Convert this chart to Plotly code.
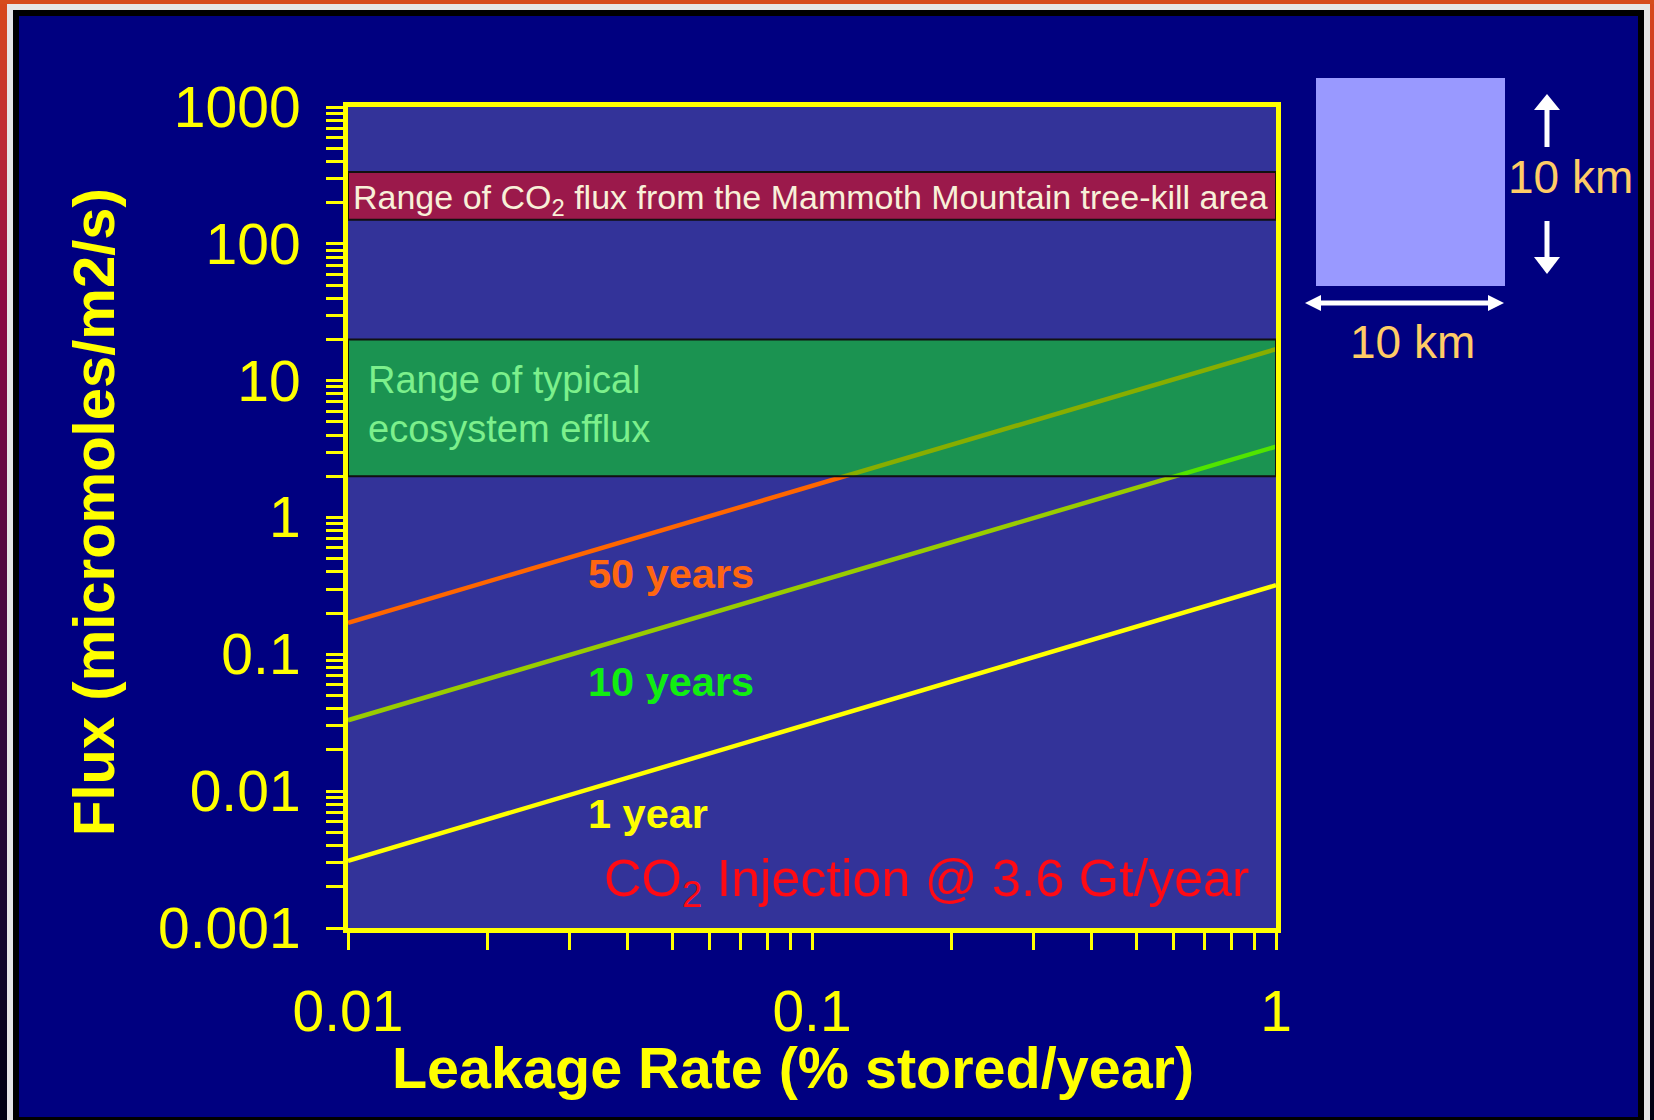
import plotly.graph_objects as go

# ---- data -------------------------------------------------------------
leak_rate = [0.01, 1.0]                       # % of stored CO2 leaking per year
series_names = ["1 year", "10 years", "50 years"]
flux_1yr = [0.0031, 0.32]                     # micromoles/m2/s
flux_10yr = [0.033, 3.3]
flux_50yr = [0.17, 17.0]
series_flux = [flux_1yr, flux_10yr, flux_50yr]

ecosystem_range = [2.0, 20.0]                 # typical ecosystem efflux
mammoth_range = [150.0, 335.0]                # Mammoth Mountain tree-kill area

y_tickvals = [0.001, 0.01, 0.1, 1, 10, 100, 1000]
y_ticktext = ["0.001", "0.01", "0.1", "1", "10", "100", "1000"]
x_tickvals = [0.01, 0.1, 1]
x_ticktext = ["0.01", "0.1", "1"]

# ---- styling ------------------------------------------------------------
W, H = 1654, 1120
ML, MR, MT, MB = 348, 378, 107, 192
PW, PH = W - ML - MR, H - MT - MB

FONT = "Liberation Sans, Arial, sans-serif"
YELLOW = "#FFFF00"
NAVY = "#000080"
PLOT_BG = "#333399"
line_colors = ["#FFFF00", "#99CC00", "#FF6600"]
label_colors = ["#FFFF00", "#11EE11", "#FF6611"]


def px(x):
    """figure pixel x -> paper coordinate"""
    return (x - ML) / PW


def py(y):
    """figure pixel y (from top) -> paper coordinate"""
    return 1 - (y - MT) / PH


def note(text, x, y, size, color, **kw):
    d = dict(text=text, x=px(x), y=py(y), xref="paper", yref="paper",
             showarrow=False, font=dict(family=FONT, size=size, color=color))
    d.update(kw)
    return d


def rect(x0, x1, y0, y1, color, **kw):
    d = dict(type="rect", xref="paper", yref="paper",
             x0=px(x0), x1=px(x1), y0=py(y1), y1=py(y0),
             fillcolor=color, line_width=0)
    d.update(kw)
    return d


def tri(points, color):
    path = "M " + " L ".join("%f,%f" % (px(a), py(b)) for a, b in points) + " Z"
    return dict(type="path", xref="paper", yref="paper", path=path,
                fillcolor=color, line_width=0)


fig = go.Figure()

for name, flux, col in zip(series_names, series_flux, line_colors):
    fig.add_trace(go.Scatter(
        x=leak_rate, y=flux, mode="lines", name=name,
        line=dict(color=col, width=4.5), showlegend=False,
    ))

shapes = []

# slide frame: gradient side strips, white and black rules
stops = [(0.0, (216, 74, 26)), (0.12, (192, 44, 52)), (0.27, (140, 8, 66)),
         (0.45, (96, 8, 66)), (0.65, (50, 8, 60)), (0.85, (18, 6, 44)),
         (1.0, (0, 0, 16))]


def grad(t):
    for (t0, c0), (t1, c1) in zip(stops[:-1], stops[1:]):
        if t0 <= t <= t1:
            f = (t - t0) / (t1 - t0)
            return "rgb(%d,%d,%d)" % tuple(round(a + (b - a) * f) for a, b in zip(c0, c1))
    return "rgb(0,0,16)"


n = 56
step = H / n
for i in range(n):
    y0, y1 = i * step, (i + 1) * step + 1
    c = grad((i + 0.5) / n)
    for x0, x1 in [(0, 7), (1650, W)]:
        shapes.append(rect(x0, x1, y0, y1, c, layer="below"))
shapes.append(rect(0, W, 0, 4, "rgb(214,76,28)", layer="below"))
for (x0, x1, y0, y1, c) in [
    (7, 13, 4, H, "#E6E6E6"), (1644, 1650, 4, H, "#E6E6E6"), (7, 1650, 4, 10, "#E6E6E6"),
    (13, 19, 10, H, "#000000"), (1638, 1644, 10, H, "#000000"), (13, 1644, 10, 16, "#000000"),
    (13, 1644, 1117, H, "#000000"),
]:
    shapes.append(rect(x0, x1, y0, y1, c, layer="below"))

# flux ranges (translucent bands over the curves)
shapes.append(dict(type="rect", xref="x", yref="y", x0=leak_rate[0], x1=leak_rate[-1],
                   y0=mammoth_range[0], y1=mammoth_range[1],
                   fillcolor="rgba(255,0,0,0.51)", line=dict(color="#111111", width=2),
                   layer="above"))
shapes.append(dict(type="rect", xref="x", yref="y", x0=leak_rate[0], x1=leak_rate[-1],
                   y0=ecosystem_range[0], y1=ecosystem_range[1],
                   fillcolor="rgba(0,255,0,0.47)", line=dict(color="#111111", width=2),
                   layer="above"))

# 10 km x 10 km footprint square with dimension arrows
WHITE = "#FFFFFF"
shapes.append(rect(1316, 1505, 78, 286, "#9999FF"))
shapes.append(rect(1320, 1489, 300.5, 305.5, WHITE))
shapes.append(tri([(1305, 303), (1321, 295), (1321, 311)], WHITE))
shapes.append(tri([(1504, 303), (1488, 295), (1488, 311)], WHITE))
shapes.append(rect(1544.5, 1549.5, 108, 147, WHITE))
shapes.append(tri([(1547, 94), (1534, 110), (1560, 110)], WHITE))
shapes.append(rect(1544.5, 1549.5, 221, 259, WHITE))
shapes.append(tri([(1547, 274), (1534, 257), (1560, 257)], WHITE))

annotations = [
    note("Range of CO<sub>2</sub> flux from the Mammoth Mountain tree-kill area",
         810, 199, 34, "#F8F0D8", xanchor="center", yanchor="middle"),
    note("Range of typical<br>ecosystem efflux", 366, 357, 38, "#7CF08C",
         xanchor="left", yanchor="top", align="left"),
    note("CO<sub>2</sub> Injection @ 3.6 Gt/year", 926, 882, 52, "#FF0A14",
         xanchor="center", yanchor="middle"),
    note("<b>Leakage Rate (% stored/year)</b>", 793, 1068, 57.5, YELLOW,
         xanchor="center", yanchor="middle"),
    note("<b>Flux (micromoles/m2/s)</b>", 93, 512, 58, YELLOW,
         xanchor="center", yanchor="middle", textangle=-90),
    note("10 km", 1570, 177, 46, "#FFCC66", xanchor="center", yanchor="middle"),
    note("10 km", 1412, 342, 46, "#FFCC66", xanchor="center", yanchor="middle"),
]

# curve labels
for name, col, ypix in zip(series_names, label_colors, [813, 681, 573]):
    annotations.append(note("<b>%s</b>" % name, 586, ypix, 41.5, col,
                            xanchor="left", yanchor="middle"))

axis_common = dict(
    type="log", showline=True, linecolor=YELLOW, linewidth=5, mirror=True,
    ticks="outside", ticklen=17, tickwidth=3, tickcolor=YELLOW,
    showgrid=False, zeroline=False,
    tickfont=dict(family=FONT, size=57, color=YELLOW),
    minor=dict(dtick="D1", ticks="outside", ticklen=17, tickwidth=3,
               tickcolor=YELLOW, showgrid=False),
)

fig.update_layout(
    width=W, height=H,
    margin=dict(l=ML, r=MR, t=MT, b=MB, autoexpand=False),
    paper_bgcolor=NAVY, plot_bgcolor=PLOT_BG,
    xaxis=dict(axis_common, range=[-2, 0], tickvals=x_tickvals, ticktext=x_ticktext,
               ticklabelstandoff=13),
    yaxis=dict(axis_common, range=[-3, 3], tickvals=y_tickvals, ticktext=y_ticktext,
               ticklabelstandoff=14),
    shapes=shapes, annotations=annotations, showlegend=False,
)

fig.write_html("out.html")
